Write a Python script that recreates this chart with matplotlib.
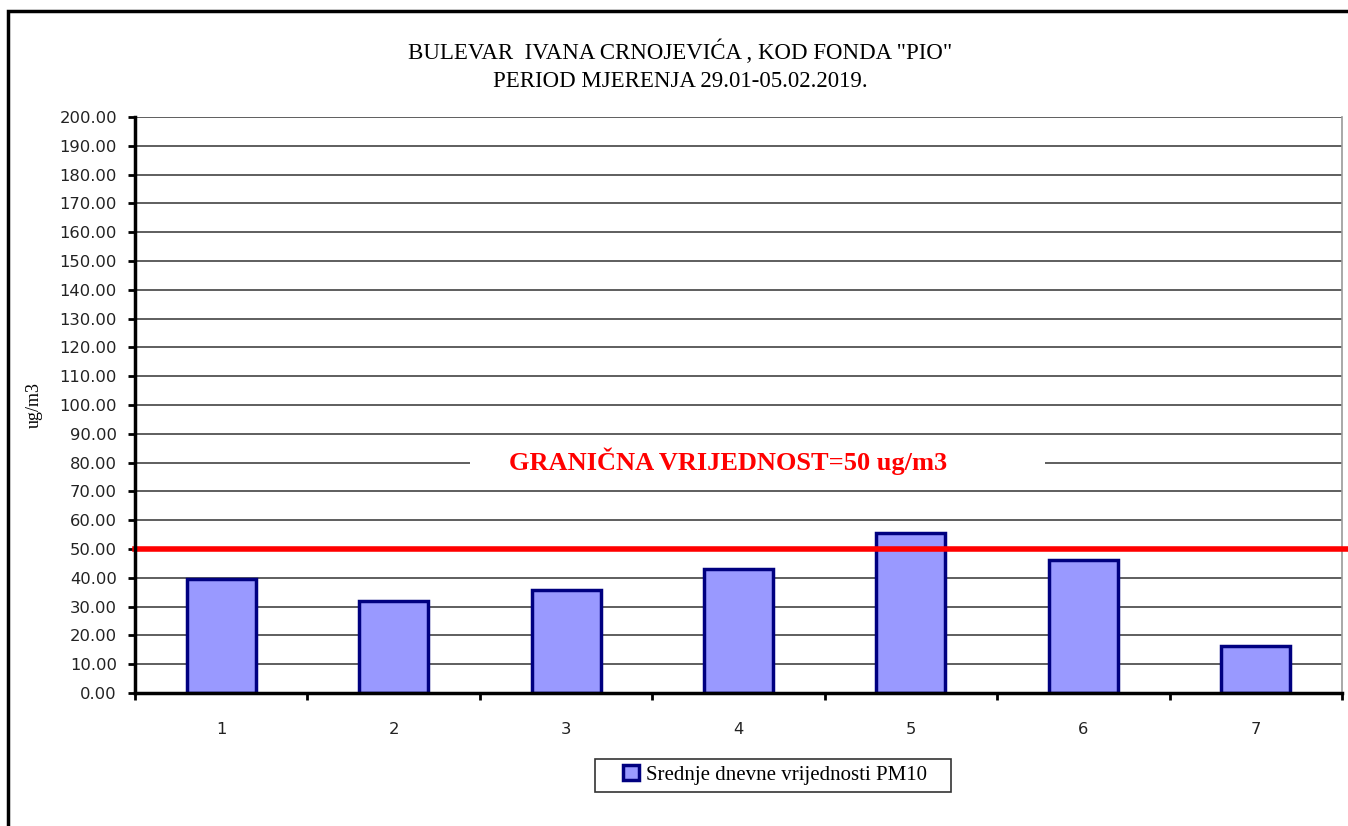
import numpy as np
import matplotlib
matplotlib.use("Agg")
from matplotlib import pyplot as plt
from matplotlib.patches import Rectangle

# data
days = ["1", "2", "3", "4", "5", "6", "7"]
pm10 = [39.7, 32.1, 35.9, 43.2, 55.7, 46.1, 16.2]
limit_value = 50
yticks = np.arange(0, 201, 10)

title = 'BULEVAR  IVANA CRNOJEVIĆA , KOD FONDA "PIO"\nPERIOD MJERENJA 29.01-05.02.2019.'
limit_label = "GRANIČNA VRIJEDNOST=50 ug/m3"
series_label = "Srednje dnevne vrijednosti PM10"

serif = "Liberation Serif"
sans = "DejaVu Sans"

fig = plt.figure(figsize=(13.48, 8.26), dpi=100)
W, H = 1348, 826

# outer frame of the chart object (runs off the right/bottom of the crop)
fig.add_artist(Rectangle((8 / W, -0.05), 1.2, 1 - 11 / H + 0.05, transform=fig.transFigure,
                         fill=False, edgecolor="black", linewidth=2.5))

ax = fig.add_axes([135 / W, 1 - 693 / H, (1342 - 135) / W, (693 - 117) / H])

x = np.arange(len(days))
ax.bar(x, pm10, width=0.4, color="#9999FF", edgecolor="#000080", linewidth=2.5,
       zorder=3, label=series_label)

ax.set_xlim(-0.5, len(days) - 0.5)
ax.set_ylim(0, 200)

# gridlines
ax.set_yticks(yticks)
ax.set_yticklabels([f"{t:.2f}" for t in yticks], fontsize=11.8, family=sans, color="#222222")
ax.yaxis.grid(True, color="#333333", linewidth=1.1, zorder=0)
ax.set_axisbelow(True)

# x: ticks at category borders, labels in the middle
ax.set_xticks(np.arange(-0.5, len(days), 1.0))
ax.set_xticklabels([])
ax.set_xticks(x, minor=True)
ax.set_xticklabels(days, minor=True, fontsize=11.8, family=sans, color="#222222")
ax.tick_params(axis="x", which="minor", length=0, pad=21)
ax.tick_params(axis="x", which="major", direction="out", length=5, width=2)
ax.tick_params(axis="y", direction="out", length=5, width=2, pad=8)

for s in ["left", "bottom"]:
    ax.spines[s].set_linewidth(2.5)
    ax.spines[s].set_color("black")
    ax.spines[s].set_zorder(5)
ax.spines["top"].set_visible(False)
ax.spines["right"].set_color("#999999")
ax.spines["right"].set_linewidth(1.2)

# limit line
ax.axhline(limit_value, xmin=0, xmax=1.003, color="#FF0000", linewidth=4, zorder=4, clip_on=False)

# limit label on white patch
ax.add_patch(Rectangle((1.443, 76), 4.777 - 1.443, 9, facecolor="white", edgecolor="none", zorder=1))
ax.text(2.94, 80.6, limit_label, color="#FF0000", fontsize=19, fontweight="bold",
        family=serif, ha="center", va="center", zorder=6)

ax.set_ylabel("ug/m3", family=serif, fontsize=13, labelpad=8)
ax.yaxis.set_label_coords(-0.076, 0.5)

fig.text(680 / W, 1 - 66 / H, title, ha="center", va="center", family=serif,
         fontsize=16.5, linespacing=1.45)

# legend: frame drawn separately (behind the axes) so it can be wider than the padding allows
fig.add_artist(Rectangle((595 / W, 1 - 792 / H), 356 / W, 33 / H, transform=fig.transFigure,
                         facecolor="white", edgecolor="#333333", linewidth=1.2, zorder=-1))
leg = ax.legend(loc="center", bbox_to_anchor=(775 / W, 1 - 775 / H),
                bbox_transform=fig.transFigure, frameon=False,
                prop={"family": serif, "size": 15}, handlelength=0.75, handleheight=0.75,
                handletextpad=0.35, borderpad=0.2, borderaxespad=0)

fig.savefig("out.png", dpi=100)
